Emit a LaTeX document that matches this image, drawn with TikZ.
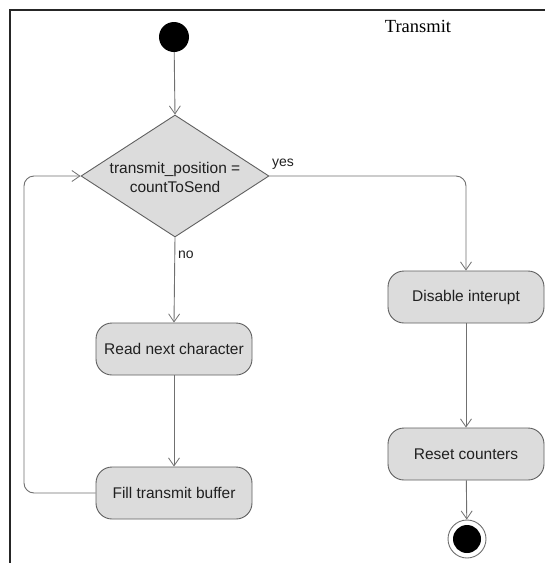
\documentclass[tikz,border=0pt]{standalone}
\usepackage{fontspec}
\setmainfont{Liberation Sans}
\newfontfamily\titlefont{Liberation Serif}
\usetikzlibrary{shapes.geometric,arrows.meta}
\definecolor{linegray}{HTML}{707070}
\definecolor{boxgray}{HTML}{DCDCDC}
\definecolor{bordergray}{HTML}{606060}
\definecolor{txt}{HTML}{202020}
\tikzset{
  actbox/.style={draw=bordergray, fill=boxgray, rounded corners=16pt, minimum width=156pt, minimum height=52pt, inner sep=0pt, line width=0.9pt, text=txt, font=\fontsize{15.5}{18}\selectfont},
  flow/.style={draw=linegray, line width=0.9pt, -{Straight Barb[length=8pt,width=11pt,line width=0.8pt]}},
  plainflow/.style={draw=linegray, line width=0.9pt},
  lbl/.style={text=txt, font=\fontsize{14}{16}\selectfont, inner sep=0pt}
}
\begin{document}
\begin{tikzpicture}[x=1pt,y=-1pt]
\useasboundingbox (0,0) rectangle (545,563);
\fill[white] (0,0) rectangle (545,563);
% frame
\draw[line width=1.6pt, color=black!85] (10,563) -- (10,10) -- (545,10);
\node[text=black, font=\titlefont\fontsize{18.5}{20}\selectfont, inner sep=0pt] (title) at (418,26) {Transmit};
% nodes
\node[circle, fill=black, minimum size=30pt, inner sep=0pt] (start) at (174,37) {};
\node[diamond, draw=bordergray, fill=boxgray, line width=0.9pt, minimum width=188pt, minimum height=122pt, inner sep=0pt] (dec) at (175,176) {};
\node[text=txt, font=\fontsize{15.5}{19}\selectfont, align=center, inner sep=0pt] (dect) at (175,177) {transmit\_position =\\countToSend};
\node[actbox] (read) at (174,349) {Read next character};
\node[actbox] (fill) at (174,493) {Fill transmit buffer};
\node[actbox] (dis) at (466,297) {Disable interupt};
\node[actbox] (reset) at (466,454) {Reset counters};
\node[circle, draw=linegray, fill=white, line width=0.9pt, minimum size=38pt, inner sep=0pt] (end) at (467,539) {};
\node[circle, fill=black, minimum size=28pt, inner sep=0pt] (endin) at (467,539) {};
\coordinate (loopx) at (24,0);
% connectors
\draw[flow] (start) -- (dec.north);
\draw[flow] (dec.south) -- (read.north);
\node[lbl, anchor=west] (nolbl) at (178,255) {no};
\draw[flow] (read) -- (fill);
\draw[flow, rounded corners=10pt] (fill.west) -- (fill.west -| loopx) -- (dec.west -| loopx) -- (dec.west);
\draw[flow, rounded corners=10pt] (dec.east) -- (dec.east -| dis.north) -- (dis.north);
\node[lbl, anchor=west] (yeslbl) at (272,164) {yes};
\draw[flow] (dis) -- (reset);
\draw[flow] (reset) -- (end);
\end{tikzpicture}
\end{document}
